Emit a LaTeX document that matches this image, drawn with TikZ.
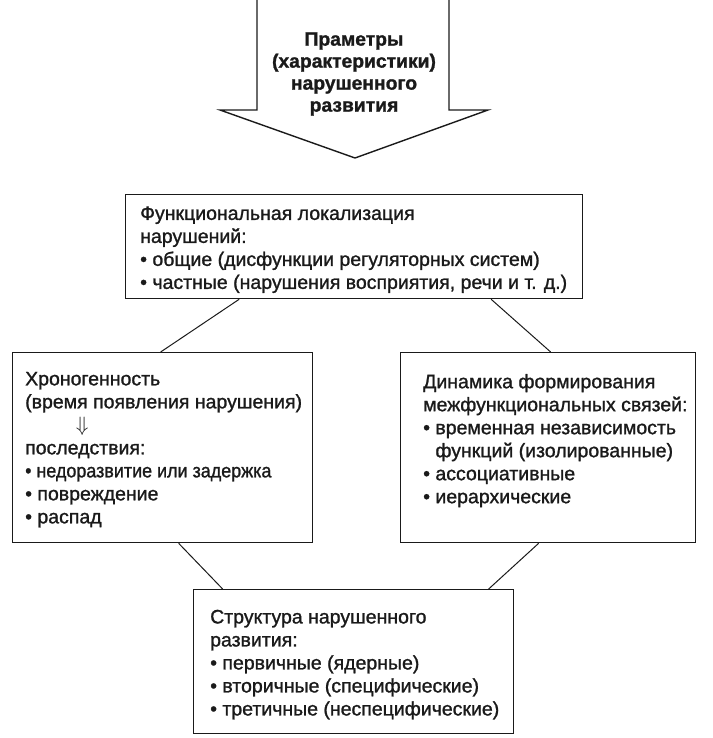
\documentclass[tikz,border=0pt]{standalone}
\usepackage{fontspec}
\setmainfont{Liberation Sans}[FakeBold=1.2]
\usepackage{xcolor}
\usepackage{tikz}
\usetikzlibrary{positioning}
\definecolor{ink}{HTML}{1a1a1a}

\begin{document}
\begin{tikzpicture}[
  x=1pt, y=-1pt,
  box/.style={draw=ink, line width=1.3pt, anchor=north west, inner sep=0pt},
  txt/.style={anchor=west, align=left, inner sep=0pt, text=ink, font=\fontsize{19.5}{23}\selectfont},
  link/.style={draw=ink, line width=1pt},
]
\useasboundingbox (0,0) rectangle (712,738);

% Big arrow on top
\draw[ink, line width=1.4pt] (257,-2) -- (257,110) -- (220,110) -- (355,158) -- (488,110) -- (449,110) -- (449,-2);
\node[align=center, inner sep=0pt, text=ink, font=\fontsize{19.3}{22}\selectfont\bfseries] (title) at (354,74)
  {Праметры\\(характеристики)\\нарушенного\\развития};

% Boxes
\node[box, minimum width=457pt, minimum height=104pt] (loc) at (125,194) {};
\node[box, minimum width=300pt, minimum height=190pt] (chrono) at (12,352) {};
\node[box, minimum width=295pt, minimum height=190pt] (dyn) at (400,352) {};
\node[box, minimum width=320pt, minimum height=144pt] (struct) at (193,589) {};

% Texts
\node[txt, right=15pt of loc.west, yshift=-3pt] (loctxt)
  {Функциональная локализация\\нарушений:\\• общие (дисфункции регуляторных систем)\\• частные (нарушения восприятия, речи и т. д.)};
\node[txt, right=13pt of chrono.west, yshift=-2pt] (chronotxt)
  {Хроногенность\\(время появления нарушения)\\\hspace*{2.6em}\raisebox{0pt}[0pt][0pt]{$\Big\Downarrow$}\\последствия:\\\scalebox{0.92}[1]{• недоразвитие или задержка}\\• повреждение\\• распад};
\node[txt, right=23pt of dyn.west, yshift=7pt] (dyntxt)
  {Динамика формирования\\межфункциональных связей:\\• временная независимость\\\phantom{• }функций (изолированные)\\• ассоциативные\\• иерархические};
\node[txt, right=17pt of struct.west, yshift=-3pt] (structtxt)
  {Структура нарушенного\\развития:\\• первичные (ядерные)\\• вторичные (специфические)\\• третичные (неспецифические)};

% Connectors
\draw[link] ([xshift=-115pt]loc.south) -- ([xshift=-2pt]chrono.north);
\draw[link] ([xshift=137pt]loc.south) -- ([xshift=2.5pt]dyn.north);
\draw[link] ([xshift=16pt]chrono.south) -- ([xshift=-131pt]struct.north);
\draw[link] ([xshift=-9.5pt]dyn.south) -- ([xshift=135pt]struct.north);

\end{tikzpicture}
\end{document}
